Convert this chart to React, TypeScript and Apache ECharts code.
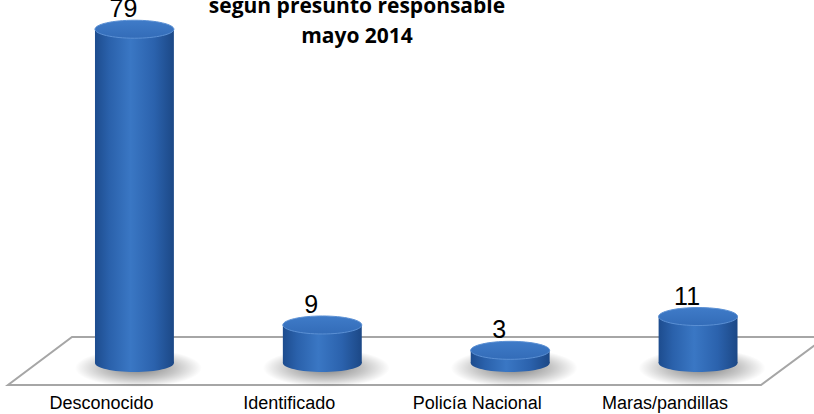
import React, { useEffect, useRef } from "react";
import * as echarts from "echarts";

const categories = ["Desconocido", "Identificado", "Policía Nacional", "Maras/pandillas"];
const values = [79, 9, 3, 11];
const titleLines = ["según presunto responsable", "mayo 2014"];

const bodyGrad = {
  type: "linear", x: 0, y: 0, x2: 1, y2: 0,
  colorStops: [
    { offset: 0, color: "#1d4c8e" },
    { offset: 0.18, color: "#2a61ab" },
    { offset: 0.45, color: "#3a77c4" },
    { offset: 0.75, color: "#2b62ad" },
    { offset: 1, color: "#1c4886" },
  ],
};
const topGrad = {
  type: "linear", x: 0, y: 0, x2: 0, y2: 1,
  colorStops: [
    { offset: 0, color: "#3f7bc8" },
    { offset: 1, color: "#336cb8" },
  ],
};
const shadowGrad = {
  type: "radial", x: 0.5, y: 0.5, r: 0.5,
  colorStops: [
    { offset: 0, color: "rgba(0,0,0,0.5)" },
    { offset: 0.6, color: "rgba(0,0,0,0.22)" },
    { offset: 1, color: "rgba(0,0,0,0)" },
  ],
};

export default function App() {
  const ref = useRef<HTMLDivElement>(null);
  useEffect(() => {
    if (!ref.current) return;
    const chart = echarts.init(ref.current, null, { renderer: "svg" });
    chart.setOption({
      animation: false,
      backgroundColor: "#ffffff",
      title: {
        text: titleLines.join("\n"),
        left: 352,
        textAlign: "center",
        top: -15,
        textStyle: {
          fontFamily: "'Open Sans', sans-serif",
          fontWeight: "bold",
          fontSize: 21,
          lineHeight: 30,
          color: "#000",
        },
      },
      grid: { left: 40.5, right: 22, top: 25, bottom: 51 },
      xAxis: {
        type: "category",
        data: categories,
        axisLine: { show: false },
        axisTick: { show: false },
        axisLabel: { show: false },
      },
      yAxis: {
        type: "value",
        min: 0,
        max: 80,
        show: false,
        splitLine: { show: false },
      },
      graphic: [
        {
          type: "polygon",
          z: 1,
          shape: { points: [[72, 337], [826, 337], [761, 385], [8, 385]] },
          style: { fill: "#ffffff", stroke: "#a6a6a6", lineWidth: 2 },
        },
      ],
      series: [
        {
          type: "custom",
          z: 5,
          clip: false,
          data: values.map((v, i) => [i, v]),
          renderItem: (params: any, api: any) => {
            const i = api.value(0);
            const v = api.value(1);
            const base = api.coord([i, 0]);
            const top = api.coord([i, v]);
            const cx = base[0];
            const bw = api.size([1, 0])[0];
            const rx = bw * 0.21;
            const ry = 9;
            const by = base[1];
            const ty = top[1];
            return {
              type: "group",
              children: [
                {
                  type: "ellipse",
                  shape: { cx: cx + 4, cy: by + 5, rx: rx + 24, ry: ry + 10 },
                  style: { fill: shadowGrad },
                },
                {
                  type: "ellipse",
                  shape: { cx, cy: by, rx, ry },
                  style: { fill: bodyGrad },
                },
                {
                  type: "rect",
                  shape: { x: cx - rx, y: ty, width: rx * 2, height: by - ty },
                  style: { fill: bodyGrad },
                },
                {
                  type: "ellipse",
                  shape: { cx, cy: ty, rx, ry },
                  style: { fill: topGrad, stroke: "#5b90d4", lineWidth: 1 },
                },
                {
                  type: "text",
                  x: cx - 11,
                  y: ty - ry - 12,
                  style: {
                    text: String(v),
                    align: "center",
                    verticalAlign: "middle",
                    fontFamily: "'Liberation Sans Narrow', 'Liberation Sans', sans-serif",
                    fontSize: 25,
                    fill: "#000",
                  },
                },
                {
                  type: "text",
                  x: cx - 33,
                  y: by + 40,
                  style: {
                    text: categories[i],
                    align: "center",
                    verticalAlign: "middle",
                    fontFamily: "'Liberation Sans', Arial, sans-serif",
                    fontSize: 18,
                    fill: "#000",
                  },
                },
              ],
            };
          },
        },
      ],
    });
    return () => chart.dispose();
  }, []);
  return (
    <div
      ref={ref}
      style={{ position: "fixed", left: 0, top: 0, width: 814, height: 414 }}
    />
  );
}
